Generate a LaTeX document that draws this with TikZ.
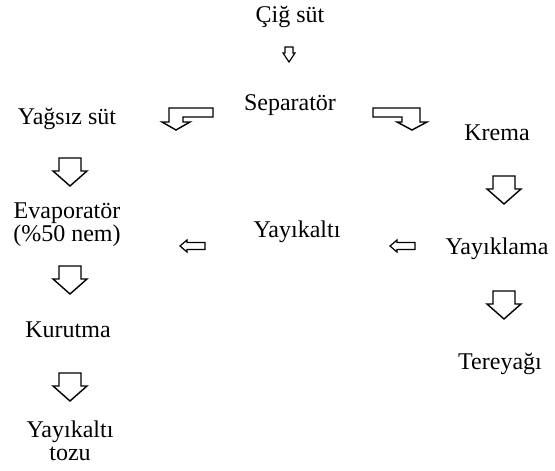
\documentclass[tikz,border=0pt]{standalone}
\usepackage{fontspec}
\setmainfont{Liberation Serif}
\begin{document}
\begin{tikzpicture}[x=1pt,y=-1pt,
  lbl/.style={anchor=base,inner sep=0pt,font=\fontsize{24}{27}\selectfont},
  blk/.style={draw=black,line width=1.4pt,line join=miter,fill=white}]
\useasboundingbox (0,0) rectangle (555,471);
% texts
\node[lbl] (cig) at (290,22) {Çiğ süt};
\node[lbl] (sep) at (290,110) {Separatör};
\node[lbl] (yag) at (67,124) {Yağsız süt};
\node[lbl] (kre) at (497,140) {Krema};
\node[lbl] (eva) at (67,218) {Evaporatör};
\node[lbl] (nem) at (67,241) {(\%50 nem)};
\node[lbl] (yka) at (297,237) {Yayıkaltı};
\node[lbl] (ykl) at (497,254) {Yayıklama};
\node[lbl] (kur) at (68,337) {Kurutma};
\node[lbl] (ter) at (500,369) {Tereyağı};
\node[lbl] (yt1) at (70,437) {Yayıkaltı};
\node[lbl] (yt2) at (70,460) {tozu};
% small down arrow
\draw[blk,line width=1.2pt] (285,47) -- (293,47) -- (293,53) -- (295,53) -- (289,62) -- (283,53) -- (285,53) -- cycle;
% bent arrows
\draw[blk] (213,108) -- (169,108) -- (169,122) -- (162,122) -- (176,130) -- (190,122) -- (183,122) -- (183,117) -- (213,117) -- cycle;
\draw[blk] (373,108) -- (420,108) -- (420,122) -- (427,122) -- (412,130) -- (397,122) -- (402,122) -- (402,117) -- (373,117) -- cycle;
% big down arrows
\foreach \cx/\ty in {70/158, 70/266, 70/373, 504/176, 504/291}{
  \draw[blk] (\cx-11,\ty) -- (\cx+11,\ty) -- (\cx+11,\ty+13) -- (\cx+17,\ty+13) -- (\cx,\ty+28) -- (\cx-17,\ty+13) -- (\cx-11,\ty+13) -- cycle;
}
% left arrows
\foreach \lx in {180,390}{
  \draw[blk,line width=1.2pt] (\lx+25,242.5) -- (\lx+7,242.5) -- (\lx+7,240) -- (\lx,246) -- (\lx+7,252) -- (\lx+7,249.5) -- (\lx+25,249.5) -- cycle;
}
\end{tikzpicture}
\end{document}
